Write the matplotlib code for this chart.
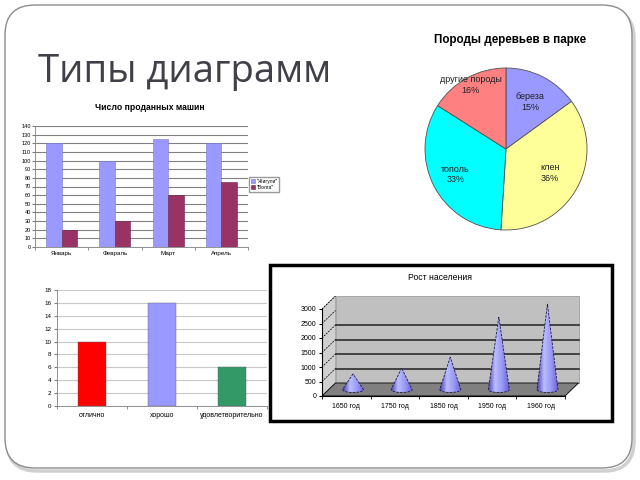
import numpy as np
import matplotlib
matplotlib.use('Agg')
import matplotlib.pyplot as plt
from matplotlib.patches import Rectangle, Polygon, FancyBboxPatch
from matplotlib.colors import LinearSegmentedColormap
from matplotlib.transforms import IdentityTransform

plt.rcParams['font.family'] = ['Liberation Sans', 'DejaVu Sans']

# data
months = ['Январь', 'Февраль', 'Март', 'Апрель']
zhiguli = [120, 100, 125, 120]
volga = [20, 30, 60, 75]

trees = ['береза', 'клен', 'тополь', 'другие породы']
tree_share = [15, 36, 33, 16]
tree_colors = ['#9999ff', '#ffff99', '#00ffff', '#ff8080']

grades = ['отлично', 'хорошо', 'удовлетворительно']
grade_counts = [10, 16, 6]
grade_colors = ['#ff0000', '#9999ff', '#339966']

years = ['1650 год', '1750 год', '1850 год', '1950 год', '1960 год']
population = [540, 740, 1120, 2500, 2950]

W, H = 640, 480


def box(x, y, w, h):
    # pixel box (top-left origin) -> figure fraction
    return [x / W, 1 - (y + h) / H, w / W, h / H]


fig = plt.figure(figsize=(6.4, 4.8), dpi=100)

# slide frame
fig.add_artist(FancyBboxPatch((7, 9), 627, 462, boxstyle='round,pad=0,rounding_size=30',
                              transform=IdentityTransform(), fc='none', ec='#d0d0d0', lw=2.5, zorder=-3))
fig.add_artist(FancyBboxPatch((5, 12), 627, 463, boxstyle='round,pad=0,rounding_size=30',
                              transform=IdentityTransform(), fc='white', ec='#8c8c8c', lw=1.0, zorder=-2))

fig.text(38 / W, 1 - 82 / H, 'Типы диаграмм', fontsize=27.5, color='#404048',
         family=['Open Sans', 'DejaVu Sans'], va='baseline')

# --- cars bar chart
ax1 = fig.add_axes(box(35, 126, 213, 121))
x = np.arange(len(months))
bw = 0.29
ax1.bar(x - bw / 2, zhiguli, bw, color='#9999ff', ec='#7777cc', lw=0.4, label='"Жигули"', zorder=3)
ax1.bar(x + bw / 2, volga, bw, color='#993366', ec='#6a2246', lw=0.4, label='"Волга"', zorder=3)
ax1.set_xlim(-0.5, len(months) - 0.5)
ax1.set_ylim(0, 140)
ax1.set_yticks(range(0, 141, 10))
ax1.set_xticks(x)
ax1.set_xticklabels(months)
ax1.set_xticks(np.arange(-0.5, len(months)), minor=True)
ax1.tick_params(axis='x', which='major', length=0, labelsize=4.5, pad=3)
ax1.tick_params(axis='x', which='minor', length=2, color='#808080')
ax1.tick_params(axis='y', labelsize=4, length=2, pad=1, color='#808080')
ax1.grid(axis='y', color='#808080', lw=0.8)
ax1.set_axisbelow(True)
for s in ['top', 'right']:
    ax1.spines[s].set_visible(False)
for s in ['left', 'bottom']:
    ax1.spines[s].set_color('#808080')
    ax1.spines[s].set_linewidth(0.6)
fig.text(150 / W, 1 - 107 / H, 'Число проданных машин', ha='center', va='center',
         fontsize=6.2, weight='bold')
fig.legend(loc='upper left', bbox_to_anchor=(249 / W, 1 - 177 / H), fontsize=3.6,
           frameon=True, fancybox=False, edgecolor='#808080', handlelength=0.8,
           handleheight=0.8, borderpad=0.3, labelspacing=0.3, handletextpad=0.4,
           borderaxespad=0)

# --- trees pie
ax2 = fig.add_axes(box(425, 68, 162, 162))
wedges, _ = ax2.pie(tree_share, colors=tree_colors, startangle=90, counterclock=False,
                    wedgeprops=dict(ec='#505050', lw=0.6))
ax2.set_xlim(-1, 1)
ax2.set_ylim(-1, 1)
label_r = [0.65, 0.62, 0.7, 0.9]
for w, name, pct, r in zip(wedges, trees, tree_share, label_r):
    a = np.deg2rad((w.theta1 + w.theta2) / 2)
    ax2.text(r * np.cos(a), r * np.sin(a), f'{name}\n{pct}%', ha='center', va='center',
             fontsize=6.5, linespacing=1.2, color='#202020')
fig.text(510 / W, 1 - 40 / H, 'Породы деревьев в парке', ha='center', va='center',
         fontsize=8.4, weight='bold')

# --- grades bar chart
ax3 = fig.add_axes(box(57, 290, 210, 116))
xg = np.arange(len(grades))
ax3.bar(xg, grade_counts, 0.4, color=grade_colors, ec='#606060', lw=0.3, zorder=3)
ax3.set_xlim(-0.5, len(grades) - 0.5)
ax3.set_ylim(0, 18)
ax3.set_yticks(range(0, 19, 2))
ax3.set_xticks(xg)
ax3.set_xticklabels(grades)
ax3.set_xticks(np.arange(-0.5, len(grades)), minor=True)
ax3.tick_params(axis='x', which='major', length=0, labelsize=5, pad=4)
ax3.tick_params(axis='x', which='minor', length=2, color='#808080')
ax3.tick_params(axis='y', labelsize=4.5, length=2, pad=2, color='#808080')
ax3.grid(axis='y', color='#c8c8c8', lw=0.8)
ax3.set_axisbelow(True)
for s in ['top', 'right']:
    ax3.spines[s].set_visible(False)
for s in ['left', 'bottom']:
    ax3.spines[s].set_color('#808080')
    ax3.spines[s].set_linewidth(0.6)

# --- population cone chart
fig.add_artist(Rectangle((270 / W, 1 - 421 / H), 342 / W, 156 / H, transform=fig.transFigure,
                         fc='white', ec='black', lw=2.5, zorder=-1))
fig.text(440 / W, 1 - 278 / H, 'Рост населения', ha='center', va='center', fontsize=6.2)

ax4 = fig.add_axes(box(322, 296, 260, 100))
ax4.patch.set_visible(False)
n = len(years)
ppx = 243 / n
ppy = 87 / 3000
xmin, xmax = -0.5, -0.5 + 260 / ppx
ymax = 100 / ppy
dx, dy = 13.5 / ppx, 13 / ppy
left, right = -0.5, n - 0.5

ax4.add_patch(Polygon([(left, 0), (left + dx, dy), (left + dx, 3000 + dy), (left, 3000)],
                      fc='#d0d0d0', ec='#909090', lw=0.5, zorder=1))
ax4.add_patch(Rectangle((left + dx, dy), n, 3000, fc='#c0c0c0', ec='#909090', lw=0.5, zorder=1))
ax4.add_patch(Polygon([(left, 0), (right, 0), (right + dx, dy), (left + dx, dy)],
                      fc='#808080', ec='black', lw=0.6, zorder=2))
for v in range(500, 2001, 500):
    ax4.plot([left + dx, right + dx], [v + dy, v + dy], color='#202020', lw=1.1, zorder=2)
for v in range(500, 3001, 500):
    ax4.plot([left, left + dx], [v, v + dy], color='black', lw=0.6, ls=(0, (2, 1.5)), zorder=2)

cone_cmap = LinearSegmentedColormap.from_list('cone', ['#4444b0', '#bcbcff', '#9a9af5', '#6666d8'])
grad = np.linspace(0, 1, 64).reshape(1, -1)
cw = 10.5 / ppx
eh = 3 / ppy
t = np.linspace(np.pi, 2 * np.pi, 40)
for i, v in enumerate(population):
    cx = i + dx / 2
    y0 = dy / 2
    base = np.column_stack([cx + cw * np.cos(t), y0 + eh * np.sin(t)])
    verts = np.vstack([[cx, y0 + v], base])
    poly = Polygon(verts, closed=True, fc='none', ec='#1c1c50', lw=0.6,
                   ls=(0, (3, 1.5)), zorder=5)
    ax4.add_patch(poly)
    im = ax4.imshow(grad, cmap=cone_cmap, extent=[cx - cw, cx + cw, y0 - eh, y0 + v],
                    aspect='auto', zorder=4, interpolation='bilinear')
    im.set_clip_path(poly)

ax4.set_xlim(xmin, xmax)
ax4.set_ylim(0, ymax)
ax4.set_yticks(range(0, 3001, 500))
ax4.set_xticks(np.arange(n))
ax4.set_xticklabels(years)
ax4.set_xticks(np.arange(-0.5, n), minor=True)
ax4.tick_params(axis='x', which='major', length=0, labelsize=5, pad=5)
ax4.tick_params(axis='x', which='minor', length=2)
ax4.tick_params(axis='y', labelsize=5, length=2, pad=2)
for s in ['top', 'right']:
    ax4.spines[s].set_visible(False)
ax4.spines['left'].set_bounds(0, 3000)
ax4.spines['bottom'].set_bounds(left, right)
ax4.spines['left'].set_linewidth(0.8)
ax4.spines['bottom'].set_linewidth(0.8)

fig.savefig('out.png', dpi=100)
